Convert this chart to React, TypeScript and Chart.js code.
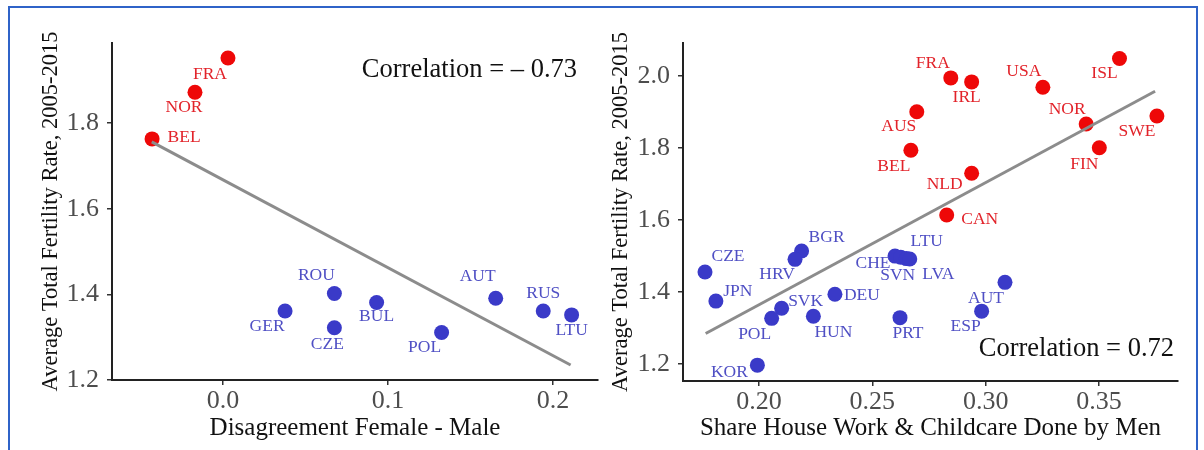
import React, { useEffect, useRef } from "react";
import { Chart, registerables } from "chart.js";

Chart.register(...registerables);

// ---------- Data: left panel ----------
const leftRedCodes = ["FRA", "NOR", "BEL"];
const leftRedX = [0.003, -0.017, -0.043];
const leftRedY = [1.952, 1.872, 1.763];
const leftBlueCodes = ["GER", "ROU", "CZE", "BUL", "POL", "AUT", "RUS", "LTU"];
const leftBlueX = [0.0376, 0.0675, 0.0675, 0.0931, 0.1325, 0.1653, 0.1941, 0.2113];
const leftBlueY = [1.361, 1.402, 1.322, 1.381, 1.311, 1.391, 1.361, 1.352];
const leftFitX = [-0.0432, 0.2107];
const leftFitY = [1.756, 1.235];
const leftXTicks = [0.0, 0.1, 0.2];
const leftYTicks = [1.2, 1.4, 1.6, 1.8];
const leftXTitle = "Disagreement Female - Male";
const leftCorr = "Correlation = \u2013 0.73";

// ---------- Data: right panel ----------
const rightRedCodes = ["FRA", "IRL", "USA", "ISL", "AUS", "NOR", "SWE", "BEL", "FIN", "NLD", "CAN"];
const rightRedX = [0.2846, 0.2938, 0.3252, 0.359, 0.2696, 0.3443, 0.3755, 0.267, 0.3501, 0.2938, 0.2828];
const rightRedY = [1.995, 1.984, 1.969, 2.049, 1.901, 1.867, 1.889, 1.794, 1.801, 1.73, 1.614];
const rightBlueCodes = ["CZE", "JPN", "BGR", "HRV", "CHE", "SVN", "LVA", "LTU", "DEU", "SVK", "POL", "HUN", "PRT", "AUT", "ESP", "KOR"];
const rightBlueX = [0.1762, 0.181, 0.2188, 0.2159, 0.26, 0.2625, 0.265, 0.2665, 0.2335, 0.21, 0.2056, 0.224, 0.2622, 0.3085, 0.2982, 0.1993];
const rightBlueY = [1.456, 1.375, 1.514, 1.491, 1.5, 1.497, 1.493, 1.492, 1.394, 1.355, 1.327, 1.333, 1.329, 1.427, 1.347, 1.197];
const rightFitX = [0.1765, 0.3747];
const rightFitY = [1.285, 1.958];
const rightXTicks = [0.2, 0.25, 0.3, 0.35];
const rightYTicks = [1.2, 1.4, 1.6, 1.8, 2.0];
const rightXTitle = "Share House Work & Childcare Done by Men";
const rightCorr = "Correlation = 0.72";

const yTitle = "Average Total Fertility Rate, 2005-2015";

// ---------- Label placement (pixel offsets of label centre from point centre) ----------
const leftLabelOffsets: Record<string, [number, number]> = {
  FRA: [-18, 16], NOR: [-11, 15], BEL: [32, -2], GER: [-18, 15], ROU: [-18, -18],
  CZE: [-7, 17], BUL: [0, 14], POL: [-17, 15], AUT: [-18, -22], RUS: [0, -18], LTU: [0, 15],
};
const rightLabelOffsets: Record<string, [number, number]> = {
  FRA: [-18, -15], IRL: [-5, 16], USA: [-19, -16], ISL: [-15, 15], AUS: [-18, 15],
  NOR: [-19, -15], SWE: [-20, 15], BEL: [-17, 16], FIN: [-15, 17], NLD: [-27, 11], CAN: [33, 4],
  CZE: [23, -16], JPN: [22, -10], BGR: [25, -14], HRV: [-18, 15], CHE: [-22, 7], SVN: [-3, 18],
  LVA: [32, 16], LTU: [17, -18], DEU: [27, 1], SVK: [24, -7], POL: [-17, 16], HUN: [20, 16],
  PRT: [8, 16], AUT: [-19, 16], ESP: [-16, 15], KOR: [-28, 7],
};

const SERIF = "'Liberation Serif', 'Times New Roman', Times, serif";
const RED = "#ee0808";
const RED_LABEL = "#e2232a";
const BLUE = "#3a3ac8";
const BLUE_LABEL = "#4f4fc4";
const FIT = "#8c8c8c";

const pointLabelPlugin = {
  id: "pointLabels",
  afterDatasetsDraw(chart: any) {
    const opts = chart.options.plugins.pointLabels;
    if (!opts) return;
    const ctx = chart.ctx;
    ctx.save();
    ctx.font = `${opts.size}px ${SERIF}`;
    ctx.textAlign = "center";
    ctx.textBaseline = "middle";
    chart.data.datasets.forEach((ds: any, di: number) => {
      if (!ds.codes) return;
      const meta = chart.getDatasetMeta(di);
      ctx.fillStyle = ds.labelColor;
      ds.codes.forEach((code: string, i: number) => {
        const el = meta.data[i];
        const off = opts.offsets[code] || [0, 0];
        ctx.fillText(code, el.x + off[0], el.y + off[1]);
      });
    });
    ctx.restore();
  },
};

const corrPlugin = {
  id: "corrText",
  afterDraw(chart: any) {
    const o = chart.options.plugins.corrText;
    if (!o) return;
    const ctx = chart.ctx;
    ctx.save();
    ctx.font = `${o.size}px ${SERIF}`;
    ctx.fillStyle = "#111";
    ctx.textAlign = "right";
    ctx.textBaseline = "middle";
    const a = chart.chartArea;
    ctx.fillText(o.text, a.right - o.fromRight, a.top + o.fromTop);
    ctx.restore();
  },
};

const zeroPad = (s: any) => {
  s.paddingLeft = 0;
  s.paddingRight = 0;
  s.paddingTop = 0;
  s.paddingBottom = 0;
};

type PanelProps = {
  width: number;
  redCodes: string[]; redX: number[]; redY: number[];
  blueCodes: string[]; blueX: number[]; blueY: number[];
  fitX: number[]; fitY: number[];
  xTicks: number[]; yTicks: number[]; xDigits: number;
  xMin: number; xMax: number; yMin: number; yMax: number;
  xTitle: string; corr: string;
  offsets: Record<string, [number, number]>;
  yAxisWidth: number; xAxisHeight: number; padRight: number; padTop: number;
  yTitlePad: number; corrFromRight: number; corrFromTop: number;
};

function Panel(p: PanelProps) {
  const ref = useRef<HTMLCanvasElement | null>(null);
  useEffect(() => {
    if (!ref.current) return;
    const pts = (xs: number[], ys: number[]) => xs.map((x, i) => ({ x, y: ys[i] }));
    const chart = new Chart(ref.current, {
      type: "scatter",
      data: {
        datasets: [
          { type: "line", data: pts(p.fitX, p.fitY), borderColor: FIT, borderWidth: 3, pointRadius: 0, fill: false } as any,
          { data: pts(p.redX, p.redY), backgroundColor: RED, borderWidth: 0, pointRadius: 7.5, codes: p.redCodes, labelColor: RED_LABEL } as any,
          { data: pts(p.blueX, p.blueY), backgroundColor: BLUE, borderWidth: 0, pointRadius: 7.5, codes: p.blueCodes, labelColor: BLUE_LABEL } as any,
        ],
      },
      options: {
        animation: false,
        responsive: false,
        devicePixelRatio: 1,
        layout: { autoPadding: false, padding: { left: 0, right: p.padRight, top: p.padTop, bottom: 0 } },
        plugins: {
          legend: { display: false },
          tooltip: { enabled: false },
          pointLabels: { size: 17.5, offsets: p.offsets },
          corrText: { text: p.corr, size: 26.5, fromRight: p.corrFromRight, fromTop: p.corrFromTop },
        } as any,
        scales: {
          x: {
            type: "linear",
            min: p.xMin,
            max: p.xMax,
            afterBuildTicks: (s: any) => { s.ticks = p.xTicks.map((v) => ({ value: v })); },
            afterFit: (s: any) => { s.height = p.xAxisHeight; zeroPad(s); },
            ticks: { color: "#4d4d4d", font: { size: 26, family: SERIF }, padding: 1, maxRotation: 0, callback: (v: any) => Number(v).toFixed(p.xDigits) },
            grid: { display: true, drawOnChartArea: false, drawTicks: true, tickLength: 5, color: "#333", lineWidth: 1.5 },
            border: { display: true, color: "#222", width: 2 },
            title: { display: true, text: p.xTitle, color: "#111", font: { size: 25, family: SERIF }, padding: { top: 0, bottom: 7 } },
          },
          y: {
            type: "linear",
            min: p.yMin,
            max: p.yMax,
            afterBuildTicks: (s: any) => { s.ticks = p.yTicks.map((v) => ({ value: v })); },
            afterFit: (s: any) => { s.width = p.yAxisWidth; zeroPad(s); },
            ticks: { color: "#4d4d4d", font: { size: 26, family: SERIF }, padding: 8, callback: (v: any) => Number(v).toFixed(1) },
            grid: { display: true, drawOnChartArea: false, drawTicks: true, tickLength: 5, color: "#333", lineWidth: 1.5 },
            border: { display: true, color: "#222", width: 2 },
            title: { display: true, text: yTitle, color: "#111", font: { size: 22.5, family: SERIF }, padding: { top: p.yTitlePad, bottom: 0 } },
          },
        },
      },
      plugins: [pointLabelPlugin, corrPlugin],
    });
    return () => chart.destroy();
  }, []);
  return <canvas ref={ref} width={p.width} height={450} style={{ width: p.width, height: 450, display: "block" }} />;
}

export default function App() {
  return (
    <div style={{ position: "fixed", left: 0, top: 0, width: 1204, height: 450, background: "#fff", overflow: "hidden" }}>
      <div style={{ position: "absolute", left: 0, top: 0 }}>
        <Panel
          width={600}
          redCodes={leftRedCodes} redX={leftRedX} redY={leftRedY}
          blueCodes={leftBlueCodes} blueX={leftBlueX} blueY={leftBlueY}
          fitX={leftFitX} fitY={leftFitY}
          xTicks={leftXTicks} yTicks={leftYTicks} xDigits={1}
          xMin={-0.0673} xMax={0.2273} yMin={1.2} yMax={1.987}
          xTitle={leftXTitle} corr={leftCorr}
          offsets={leftLabelOffsets}
          yAxisWidth={112} xAxisHeight={70} padRight={2} padTop={43}
          yTitlePad={38} corrFromRight={21} corrFromTop={27}
        />
      </div>
      <div style={{ position: "absolute", left: 600, top: 0 }}>
        <Panel
          width={604}
          redCodes={rightRedCodes} redX={rightRedX} redY={rightRedY}
          blueCodes={rightBlueCodes} blueX={rightBlueX} blueY={rightBlueY}
          fitX={rightFitX} fitY={rightFitY}
          xTicks={rightXTicks} yTicks={rightYTicks} xDigits={2}
          xMin={0.1665} xMax={0.3848} yMin={1.153} yMax={2.092}
          xTitle={rightXTitle} corr={rightCorr}
          offsets={rightLabelOffsets}
          yAxisWidth={83} xAxisHeight={69} padRight={26} padTop={43}
          yTitlePad={8} corrFromRight={4} corrFromTop={306}
        />
      </div>
      <div style={{ position: "absolute", left: 8, top: 6, width: 1186, height: 470, borderTop: "2px solid #2f63c8", borderLeft: "2px solid #2f63c8", borderRight: "2px solid #2f63c8", pointerEvents: "none" }} />
    </div>
  );
}
